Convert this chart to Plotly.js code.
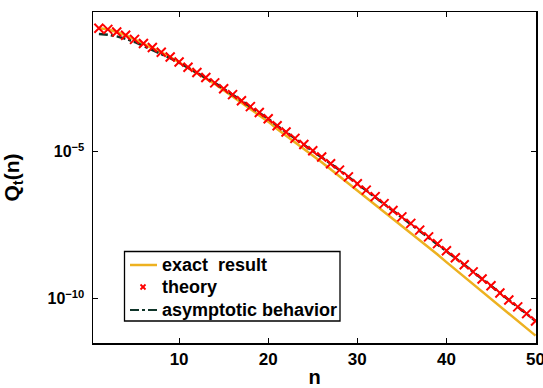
<!DOCTYPE html>
<html>
<head>
<meta charset="utf-8">
<script src="https://cdn.plot.ly/plotly-3.0.1.min.js"></script>
<style>html,body{margin:0;padding:0;background:#fff}#chart{width:543px;height:388px}</style>
</head>
<body>
<div id="chart"></div>
<script>
// n values
const nValues = [1,2,3,4,5,6,7,8,9,10,11,12,13,14,15,16,17,18,19,20,21,22,23,24,25,26,27,28,29,30,31,32,33,34,35,36,37,38,39,40,41,42,43,44,45,46,47,48,49,50];
// log10 of Q_t(n)
const theoryLog = [-0.80,-0.84,-0.93,-1.04,-1.18,-1.32,-1.46,-1.62,-1.78,-1.95,-2.13,-2.31,-2.48,-2.66,-2.86,-3.06,-3.27,-3.47,-3.67,-3.88,-4.12,-4.33,-4.55,-4.76,-4.97,-5.18,-5.41,-5.63,-5.86,-6.09,-6.31,-6.53,-6.77,-7.00,-7.22,-7.44,-7.67,-7.90,-8.13,-8.37,-8.61,-8.85,-9.09,-9.33,-9.56,-9.81,-10.05,-10.28,-10.51,-10.76];
const exactLog = [-0.80,-0.84,-0.93,-1.04,-1.18,-1.32,-1.46,-1.62,-1.78,-1.96,-2.14,-2.33,-2.51,-2.70,-2.91,-3.12,-3.34,-3.55,-3.76,-3.98,-4.23,-4.45,-4.68,-4.90,-5.13,-5.36,-5.60,-5.84,-6.08,-6.33,-6.56,-6.80,-7.05,-7.30,-7.53,-7.77,-8.01,-8.26,-8.50,-8.76,-9.01,-9.26,-9.51,-9.77,-10.01,-10.27,-10.52,-10.76,-11.00,-11.26];
const asymLog = [-1.00,-1.02,-1.08,-1.16,-1.27,-1.40,-1.54,-1.68,-1.82,-1.97,-2.14,-2.32,-2.48,-2.66,-2.86,-3.06,-3.27,-3.47,-3.67,-3.88,-4.12,-4.33,-4.55,-4.76,-4.97,-5.18,-5.41,-5.63,-5.86,-6.09,-6.31,-6.53,-6.77,-7.00,-7.22,-7.44,-7.67,-7.90,-8.13,-8.37,-8.61,-8.85,-9.09,-9.33,-9.56,-9.81,-10.05,-10.28,-10.51,-10.76];
const seriesNames = ['exact  result','theory','asymptotic behavior'];
const xTickVals = [10,20,30,40,50];
const xTickText = ['<b>10</b>','<b>20</b>','<b>30</b>','<b>40</b>','<b>50</b>'];
const yTickVals = [1e-10,1e-5];
const yTickText = ['<b>10<sup>\u221210</sup></b>','<b>10<sup>\u22125</sup></b>'];

const COLORS = {exact: '#EDB120', theory: '#ff0000', asym: '#10352a'};
const pow10 = a => a.map(v => Math.pow(10, v));
const FONT = 'Liberation Sans, Arial, sans-serif';

const traces = [
  {x: nValues, y: pow10(exactLog), name: seriesNames[0], type: 'scatter', mode: 'lines',
   line: {color: COLORS.exact, width: 2.5}, showlegend: false},
  {x: nValues, y: pow10(asymLog), name: seriesNames[2], type: 'scatter', mode: 'lines',
   line: {color: COLORS.asym, width: 2.5, dash: 'dashdot'}, showlegend: false},
  {x: nValues, y: pow10(theoryLog), name: seriesNames[1], type: 'scatter', mode: 'markers',
   marker: {symbol: 'x-thin', size: 9, color: COLORS.theory, line: {color: COLORS.theory, width: 2}}, showlegend: false}
];

// Legend box (drawn in plot-domain coordinates)
const M = {l: 93, r: 7, t: 12, b: 45};
const W = 543 - M.l - M.r, H = 388 - M.t - M.b;
const px = x => (x - M.l) / W;
const py = y => (388 - M.b - y) / H;
const dom = {xref: 'paper', yref: 'paper'};
const rowY = [265, 287, 310];
const shapes = [
  Object.assign({type: 'rect', x0: px(124.5), x1: px(340), y0: py(251.5), y1: py(321),
    fillcolor: '#fff', line: {color: '#000', width: 1.3}, layer: 'above'}, dom),
  Object.assign({type: 'line', x0: px(130), x1: px(157), y0: py(rowY[0]), y1: py(rowY[0]),
    line: {color: COLORS.exact, width: 2.5}, layer: 'above'}, dom),
  Object.assign({type: 'line', x0: px(140.5), x1: px(145.5), y0: py(rowY[1]-2.5), y1: py(rowY[1]+2.5),
    line: {color: COLORS.theory, width: 1.8}, layer: 'above'}, dom),
  Object.assign({type: 'line', x0: px(140.5), x1: px(145.5), y0: py(rowY[1]+2.5), y1: py(rowY[1]-2.5),
    line: {color: COLORS.theory, width: 1.8}, layer: 'above'}, dom),
  Object.assign({type: 'line', x0: px(130), x1: px(157), y0: py(rowY[2]), y1: py(rowY[2]),
    line: {color: COLORS.asym, width: 2, dash: 'dashdot'}, layer: 'above'}, dom)
];
const annotations = seriesNames.map((s, i) => Object.assign({
  x: px(160), y: py(rowY[i]), xanchor: 'left', yanchor: 'middle', showarrow: false,
  text: '<b>' + s.replace(/  /g, '&nbsp; ') + '</b>',
  font: {family: FONT, size: 18, color: '#000'}
}, dom));

const layout = {
  width: 543, height: 388,
  margin: M,
  paper_bgcolor: '#fff', plot_bgcolor: '#fff',
  font: {family: FONT, size: 17, color: '#000'},
  showlegend: false,
  shapes: shapes,
  annotations: annotations,
  xaxis: {range: [0.34, 50.05], tickmode: 'array', tickvals: xTickVals, ticktext: xTickText,
          ticks: 'inside', ticklen: 5, tickwidth: 1, tickcolor: '#000',
          showline: true, linecolor: '#000', linewidth: 1.5, mirror: 'ticks',
          showgrid: false, zeroline: false, ticklabeloverflow: 'allow',
          tickfont: {family: FONT, size: 17},
          title: {text: '<b>n</b>', font: {family: FONT, size: 20}, standoff: 6}},
  yaxis: {type: 'log', range: [-11.51, -0.25], tickmode: 'array', tickvals: yTickVals, ticktext: yTickText,
          ticks: 'inside', ticklen: 5, tickwidth: 1, tickcolor: '#000',
          showline: true, linecolor: '#000', linewidth: 1.5, mirror: 'ticks',
          showgrid: false, zeroline: false, ticklabelstandoff: 4,
          tickfont: {family: FONT, size: 16},
          title: {text: '<b>Q<sub>t</sub>(n)</b>', font: {family: FONT, size: 21}, standoff: 22}}
};

Plotly.newPlot('chart', traces, layout, {staticPlot: true, displayModeBar: false});
</script>
</body>
</html>
